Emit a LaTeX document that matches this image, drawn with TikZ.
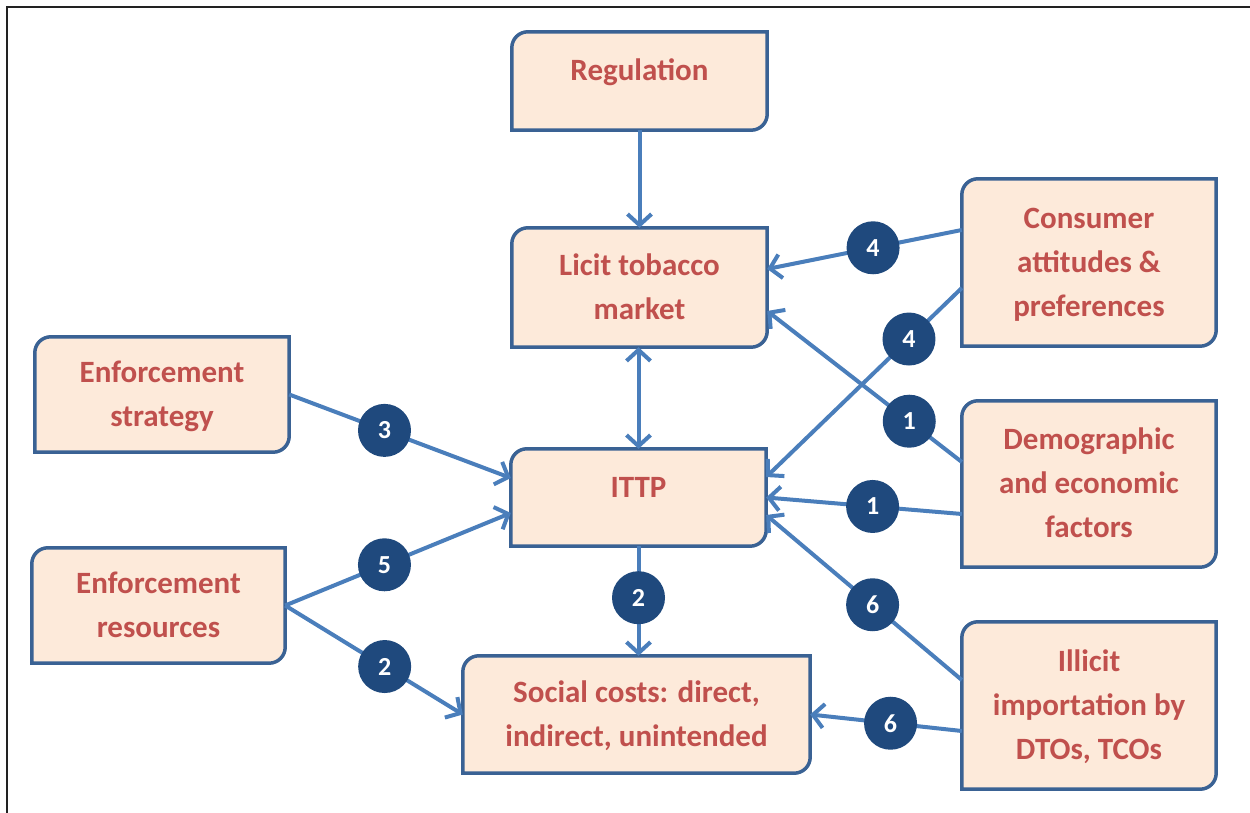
\documentclass[tikz,border=0pt]{standalone}
\usepackage{fontspec}
\setmainfont{Carlito}
\usetikzlibrary{arrows.meta,calc}
\pgfdeclarelayer{background}
\pgfsetlayers{background,main}
\definecolor{boxfill}{HTML}{FDEADA}
\definecolor{boxedge}{HTML}{3A6294}
\definecolor{txtred}{HTML}{C0504D}
\definecolor{arrowblue}{HTML}{4A7EBB}
\definecolor{circblue}{HTML}{1F497D}
\definecolor{framecol}{HTML}{222222}
\begin{document}
\begin{tikzpicture}[x=1pt,y=1pt,
 barb/.tip={Straight Barb[length=11pt,width=24pt]},
 box/.style={inner sep=0pt, align=center, text=txtred, font=\fontsize{31}{44}\selectfont\bfseries, minimum width=255pt},
 one/.style={text height=15pt, text depth=15pt},
 two/.style={text height=66pt, text depth=2pt},
 three/.style={text height=110pt, text depth=2pt},
 boxline/.style={draw=boxedge, fill=boxfill, line width=3.5pt},
 conn/.style={draw=arrowblue, line width=4pt, -barb},
 conn2/.style={draw=arrowblue, line width=4pt, barb-barb},
 num/.style={circle, fill=circblue, text=white, minimum size=53pt, inner sep=0pt, font=\fontsize{26}{26}\selectfont\bfseries}
]
\useasboundingbox (0,0) rectangle (1250,813);
\draw[line width=2pt, color=framecol] (7,0) -- (7,806) -- (1250,806);

\node[box, one, minimum height=98pt] (reg) at (639.5,732) {Regulation};
\node[box, two, minimum height=119pt] (licit) at (639.5,525.5) {Licit tobacco\\market};
\node[box, three, minimum width=254pt, minimum height=167pt] (cons) at (1089,550.5) {Consumer\\attitudes \&\\preferences};
\node[box, two, minimum width=254pt, minimum height=115pt] (strat) at (162,418.5) {Enforcement\\strategy};
\node[box, one, minimum height=97pt] (ittp) at (638.5,315.5) {ITTP};
\node[box, three, minimum width=254pt, minimum height=166pt] (demo) at (1089,329) {Demographic\\and economic\\factors};
\node[box, two, minimum width=253pt, minimum height=115pt] (res) at (158.5,207.5) {Enforcement\\resources};
\node[box, two, minimum width=347pt, minimum height=117pt] (soc) at (636.5,98.5) {Social costs: direct,\\indirect, unintended};
\node[box, three, minimum width=254pt, minimum height=167pt] (ill) at (1089,107.5) {Illicit\\importation by\\DTOs, TCOs};

\begin{pgfonlayer}{background}
\foreach \n in {reg,licit,cons,strat,ittp,demo,res,soc,ill}{
  \draw[boxline] (\n.south west) -- ([yshift=-16pt]\n.north west)
    arc[start angle=180,end angle=90,radius=16pt] -- (\n.north east)
    -- ([yshift=16pt]\n.south east)
    arc[start angle=0,end angle=-90,radius=16pt] -- cycle;
}
\end{pgfonlayer}

\draw[conn] (reg.south) -- (reg.south |- licit.north);
\draw[conn2] (ittp.north |- licit.south) -- (ittp.north);
\draw[conn] ([yshift=32.5pt]cons.west) -- node[num,pos=0.456]{4} ([yshift=18.5pt]licit.east);
\draw[conn] ([yshift=-25.5pt]cons.west) -- node[num,pos=0.27]{4} ([yshift=20.5pt]ittp.east);
\draw[conn] ([yshift=22pt]demo.west) -- node[num,pos=0.27]{1} ([yshift=-23.5pt]licit.east);
\draw[conn] ([yshift=-30pt]demo.west) -- node[num,pos=0.456]{1} (ittp.east);
\draw[conn] ([yshift=25.5pt]ill.west) -- node[num,pos=0.456]{6} ([yshift=-17.5pt]ittp.east);
\draw[conn] ([yshift=-25.5pt]ill.west) -- node[num,pos=0.47]{6} (soc.east);
\draw[conn] (strat.east) -- node[num,pos=0.43]{3} ([yshift=19.5pt]ittp.west);
\draw[conn] (res.east) -- node[num,pos=0.44]{5} ([yshift=-15.5pt]ittp.west);
\draw[conn] (res.east) -- node[num,pos=0.56]{2} (soc.west);
\draw[conn] (ittp.south) -- node[num,pos=0.47]{2} (ittp.south |- soc.north);
\end{tikzpicture}
\end{document}
